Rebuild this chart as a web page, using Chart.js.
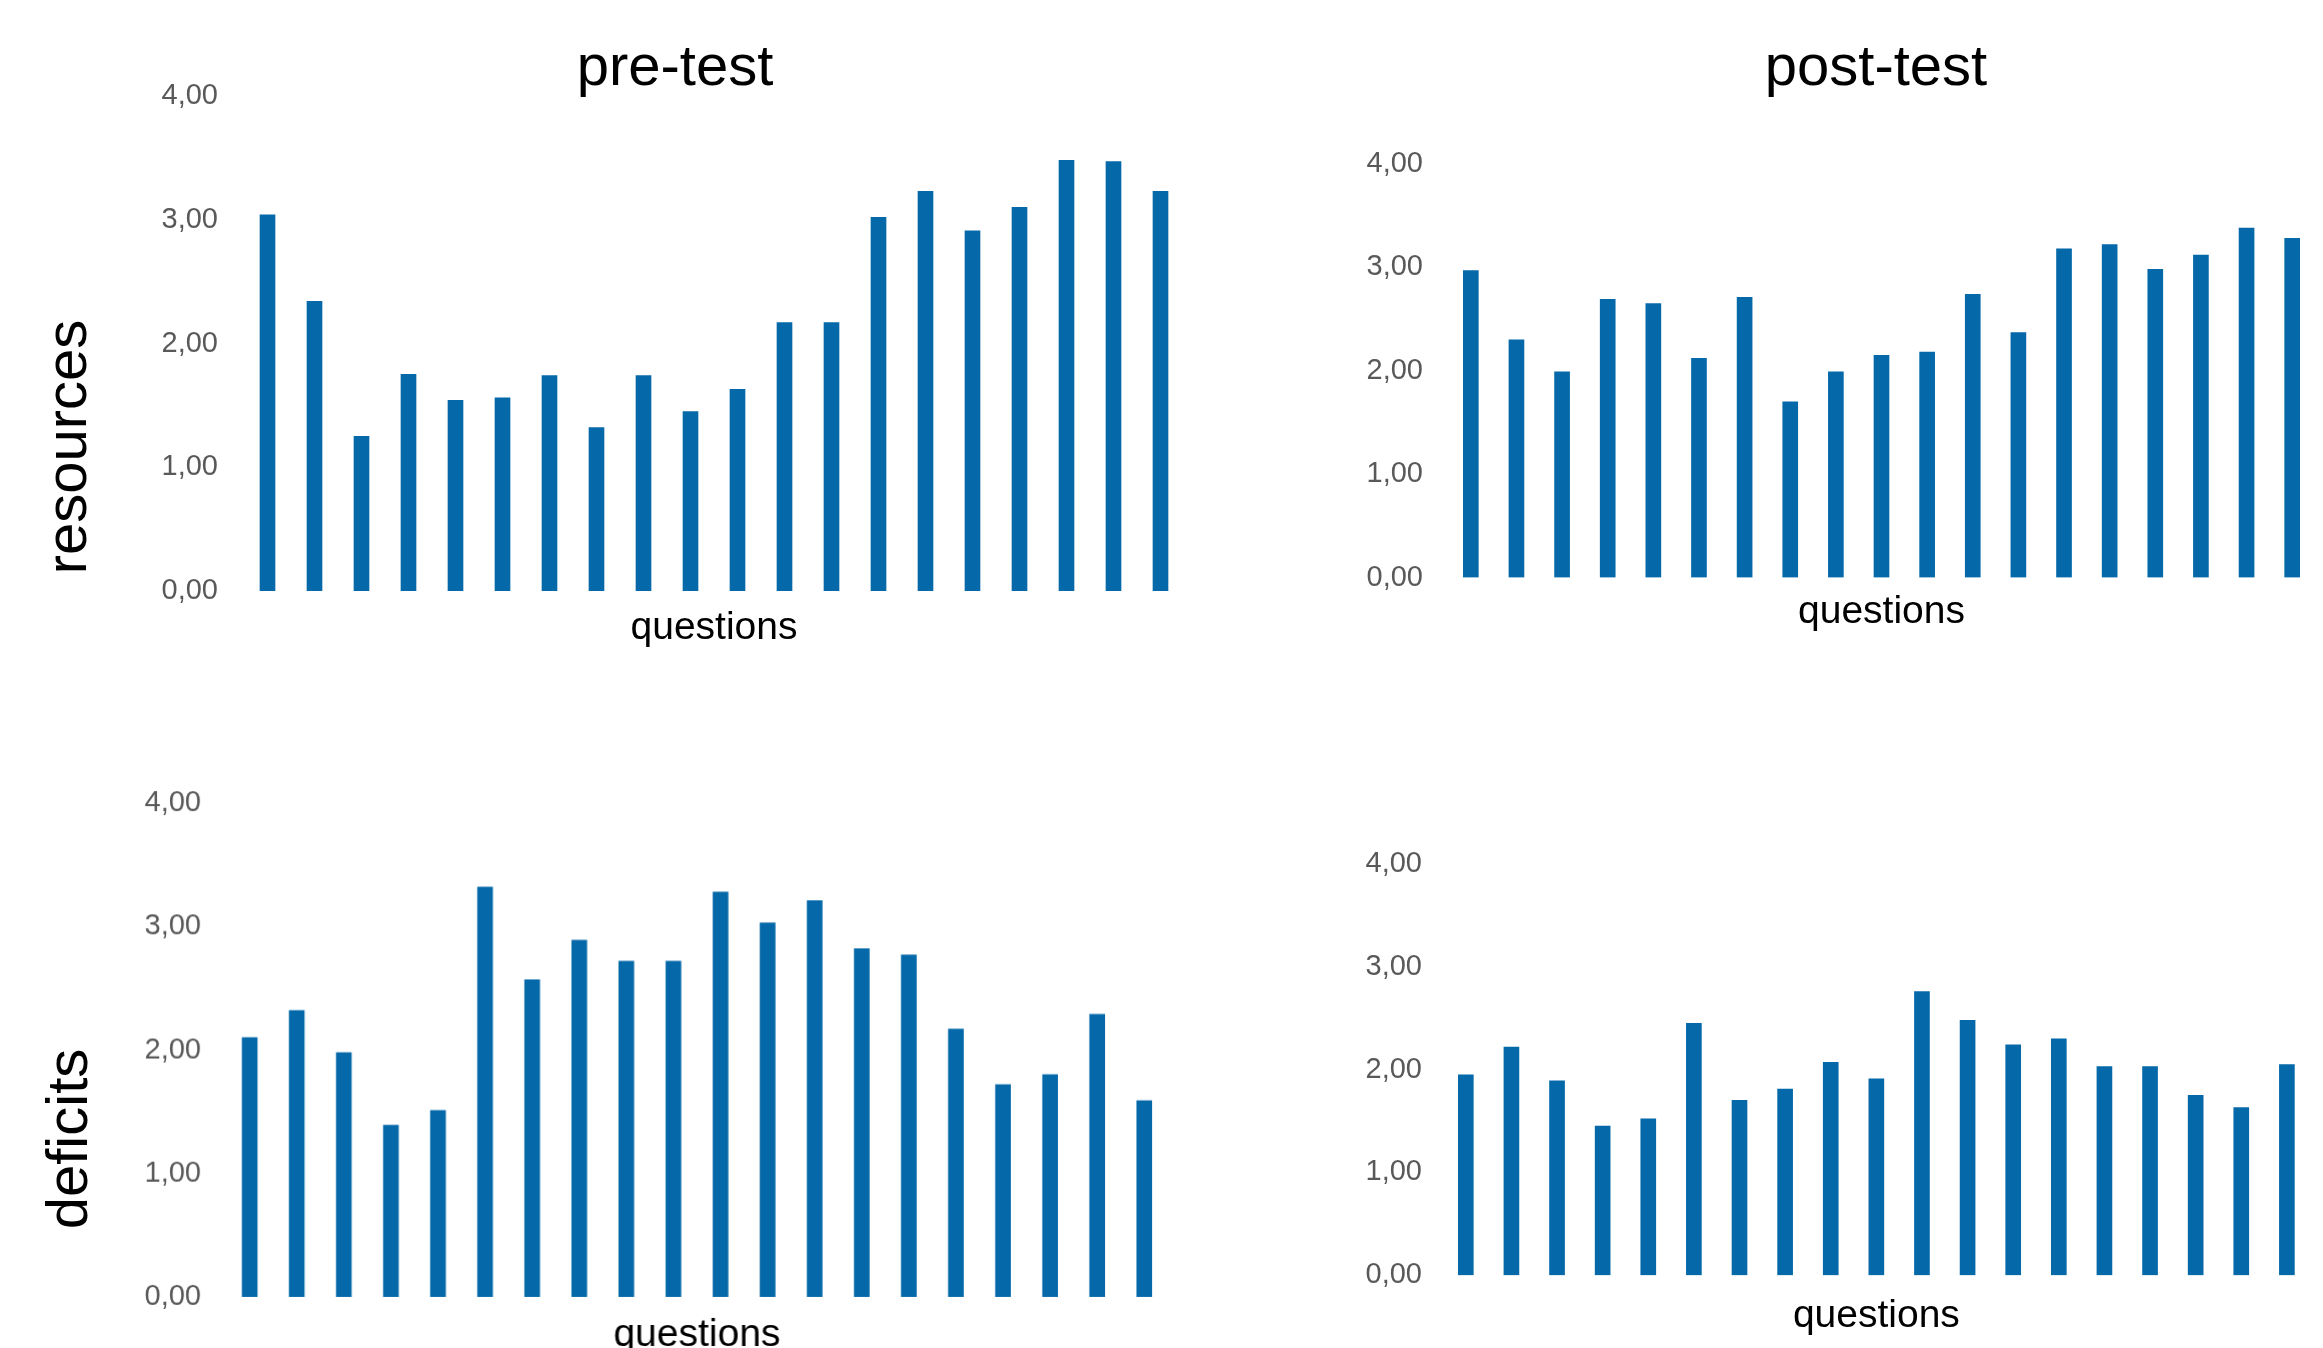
<!DOCTYPE html>
<html>
<head>
<meta charset="utf-8">
<script src="https://cdn.jsdelivr.net/npm/chart.js@4.4.1/dist/chart.umd.min.js"></script>
<style>
  html, body { margin: 0; padding: 0; background: #fff; overflow: hidden; }
  body { width: 2323px; height: 1348px; position: relative; font-family: "Liberation Sans", Arial, sans-serif; }
  .box { position: absolute; }
  .label { position: absolute; font-size: 58px; line-height: 1; color: #000; white-space: nowrap; }
  .col-title { transform: translateX(-50%); }
  .row-title { transform: translate(-50%, -50%) rotate(-90deg); }
</style>
</head>
<body>
<div class="label col-title" style="left: 675px; top: 36px;">pre-test</div>
<div class="label col-title" style="left: 1876px; top: 36px;">post-test</div>
<div class="label row-title" style="left: 66px; top: 447px;">resources</div>
<div class="label row-title" style="left: 67px; top: 1139px;">deficits</div>

<div class="box" id="box-pre-res"><canvas id="pre-res"></canvas></div>
<div class="box" id="box-post-res"><canvas id="post-res"></canvas></div>
<div class="box" id="box-pre-def"><canvas id="pre-def"></canvas></div>
<div class="box" id="box-post-def"><canvas id="post-def"></canvas></div>

<script>
const questions = ["1", "2", "3", "4", "5", "6", "7", "8", "9", "10",
  "11", "12", "13", "14", "15", "16", "17", "18", "19", "20"];
const yTicks = [0, 1, 2, 3, 4];

const preResources = [3.04, 2.34, 1.25, 1.75, 1.54, 1.56, 1.74, 1.32, 1.74, 1.45,
  1.63, 2.17, 2.17, 3.02, 3.23, 2.91, 3.10, 3.48, 3.47, 3.23];
const postResources = [2.97, 2.30, 1.99, 2.69, 2.65, 2.12, 2.71, 1.70, 1.99, 2.15,
  2.18, 2.74, 2.37, 3.18, 3.22, 2.98, 3.12, 3.38, 3.28];
const preDeficits = [2.10, 2.32, 1.98, 1.39, 1.51, 3.32, 2.57, 2.89, 2.72, 2.72,
  3.28, 3.03, 3.21, 2.82, 2.77, 2.17, 1.72, 1.80, 2.29, 1.59];
const postDeficits = [1.95, 2.22, 1.89, 1.45, 1.52, 2.45, 1.70, 1.81, 2.07, 1.91,
  2.76, 2.48, 2.24, 2.30, 2.03, 2.03, 1.75, 1.63, 2.05];

const BAR_COLOR = "#0569a9";
const FONT = "'Liberation Sans', Arial, sans-serif";
const AXIS_W = 120;   // fixed width of the y axis box
const PAD_TOP = 60;   // must exceed half a tick label + tick padding
const TITLE_SIZE = 39;

// plot areas in page pixels: left/right of the category band, y of 4,00 and 0,00
const panels = [
  { id: "pre-res", data: preResources, left: 243.5, right: 1183.5, top: 95.5, bottom: 590.5, tickPad: 26, titlePad: 14 },
  { id: "post-res", data: postResources, left: 1447.6, right: 2314.6, top: 163.5, bottom: 577, tickPad: 25, titlePad: 11 },
  { id: "pre-def", data: preDeficits, left: 226.4, right: 1167.2, top: 803.3, bottom: 1296.3, tickPad: 25, titlePad: 15 },
  { id: "post-def", data: postDeficits, left: 1442.6, right: 2309.3, top: 864, bottom: 1275.2, tickPad: 21, titlePad: 18 }
];

panels.forEach(p => {
  const box = document.getElementById("box-" + p.id);
  const xAxisH = TITLE_SIZE * 1.2 + p.titlePad;
  box.style.left = (p.left - AXIS_W) + "px";
  box.style.top = (p.top - PAD_TOP) + "px";
  box.style.width = (p.right - p.left + AXIS_W) + "px";
  box.style.height = (p.bottom - p.top + PAD_TOP + xAxisH) + "px";

  new Chart(document.getElementById(p.id), {
    type: "bar",
    data: {
      labels: questions.slice(0, p.data.length),
      datasets: [{
        data: p.data,
        backgroundColor: BAR_COLOR,
        borderWidth: 0,
        barThickness: 15
      }]
    },
    options: {
      responsive: true,
      maintainAspectRatio: false,
      animation: false,
      layout: { padding: { top: PAD_TOP, left: 0, right: 0, bottom: 0 } },
      plugins: { legend: { display: false }, tooltip: { enabled: false } },
      scales: {
        x: {
          offset: true,
          grid: { display: false, drawTicks: false },
          border: { display: false },
          ticks: { display: false },
          title: {
            display: true,
            text: "questions",
            color: "#000",
            font: { family: FONT, size: TITLE_SIZE },
            padding: { top: p.titlePad, bottom: 0 }
          }
        },
        y: {
          min: yTicks[0],
          max: yTicks[yTicks.length - 1],
          afterBuildTicks: scale => { scale.ticks = yTicks.map(v => ({ value: v })); },
          afterFit: scale => { scale.width = AXIS_W; },
          grid: { display: false, drawTicks: false },
          border: { display: false },
          ticks: {
            padding: p.tickPad,
            color: "#595959",
            font: { family: FONT, size: 29 },
            callback: v => v.toFixed(2).replace(".", ",")
          }
        }
      }
    }
  });
});
</script>
</body>
</html>
